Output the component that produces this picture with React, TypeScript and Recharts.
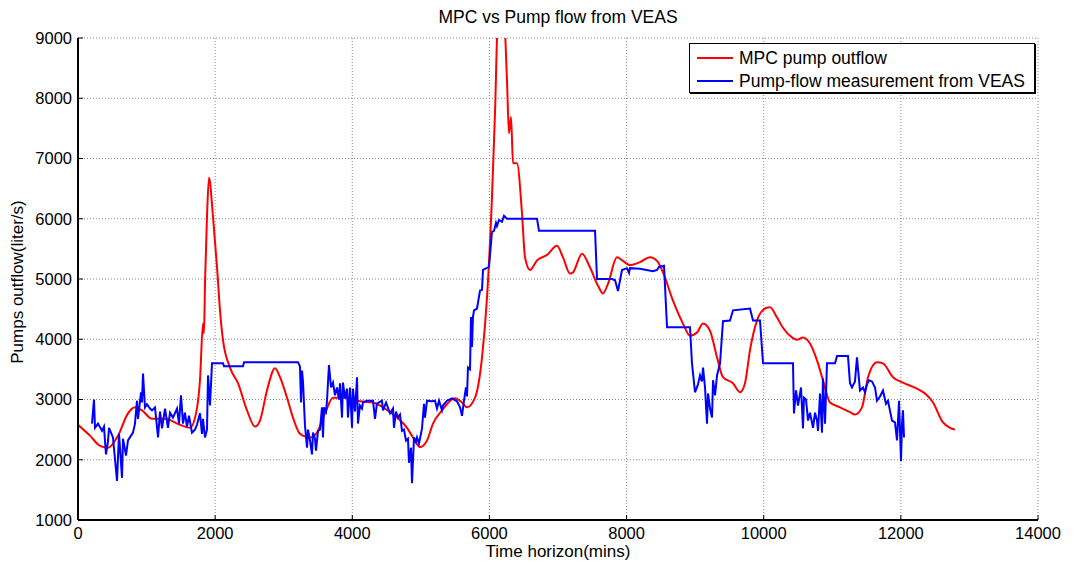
import React from "react";
import { CartesianGrid, Line, LineChart, XAxis, YAxis } from "recharts";

const xTicks = [0, 2000, 4000, 6000, 8000, 10000, 12000, 14000];
const yTicks = [1000, 2000, 3000, 4000, 5000, 6000, 7000, 8000, 9000];

// MPC pump outflow (red)
const mpcTime = [
  0, 175, 321, 437, 583, 729, 831, 933, 1079, 1269, 1487, 1633, 1721, 1779, 1823, 1837, 1852, 1881, 1910, 1969,
  2027, 2071, 2115, 2217, 2333, 2465, 2581, 2654, 2756, 2873, 2946, 3048, 3135, 3223, 3281, 3383, 3485, 3602, 3719,
  3923, 4112, 4302, 4448, 4652, 4798, 4885, 4987, 5090, 5177, 5308, 5498, 5600, 5673, 5790, 5892, 5965, 6037, 6081,
  6125, 6212, 6256, 6285, 6315, 6344, 6402, 6475, 6519, 6592, 6694, 6840, 6985, 7073, 7175, 7219, 7350, 7467, 7583,
  7656, 7729, 7860, 7948, 8050, 8196, 8342, 8444, 8531, 8677, 8823, 8925, 9027, 9115, 9217, 9319, 9406, 9552, 9654,
  9727, 9800, 9902, 10019, 10092, 10194, 10281, 10412, 10485, 10573, 10675, 10777, 10864, 10967, 11113, 11258, 11331,
  11433, 11521, 11652, 11739, 11885, 12031, 12235, 12381, 12469, 12614, 12717, 12790,
];
const mpcFlow = [
  2580, 2400, 2230, 2200, 2400, 2770, 2870, 2820, 2680, 2680, 2580, 2530, 2770, 3320, 4260, 4100, 4930, 6030, 6680, 6030,
  5200, 4480, 3980, 3530, 3270, 2820, 2550, 2650, 3150, 3520, 3370, 3030, 2700, 2450, 2400, 2370, 2450, 2770, 3030,
  3030, 2970, 2950, 2870, 2700, 2530, 2370, 2210, 2320, 2600, 2820, 3020, 2950, 2870, 3030, 3700, 4700, 6350, 7750,
  9300, 9300, 8300, 7420, 7690, 6920, 6920, 6090, 5360, 5150, 5310, 5400, 5550, 5360, 5090, 5110, 5420, 5190, 4890,
  4760, 4920, 5360, 5300, 5230, 5280, 5360, 5300, 5110, 4640, 4260, 4060, 4110, 4260, 4140, 3700, 3370, 3270, 3120,
  3270, 3820, 4310, 4510, 4530, 4360, 4190, 4030, 3990, 4030, 3930, 3650, 3320, 2950, 2870, 2790, 2750,
  2870, 3370, 3620, 3600, 3370, 3280, 3180, 3070, 2950, 2620, 2530, 2500,
];

// Pump-flow measurement from VEAS (blue)
const veasTime = [
  204, 233, 248, 292, 350, 379, 408, 437, 452, 481, 510, 569, 598, 642, 656, 700, 729, 773, 802, 831, 860, 875, 919,
  933, 948, 977, 1006, 1050, 1079, 1123, 1167, 1196, 1225, 1269, 1312, 1342, 1385, 1444, 1473, 1502, 1531, 1560, 1589,
  1619, 1662, 1706, 1735, 1779, 1808, 1823, 1852, 1881, 1896, 1925, 1954, 2115, 2129, 2406, 2421, 3208, 3237, 3252,
  3267, 3281, 3310, 3340, 3354, 3383, 3412, 3427, 3456, 3471, 3500, 3529, 3558, 3573, 3587, 3617, 3631, 3660, 3690,
  3719, 3748, 3777, 3806, 3821, 3850, 3864, 3894, 3923, 3937, 3967, 3996, 4010, 4040, 4069, 4083, 4112, 4141, 4156,
  4214, 4302, 4331, 4360, 4433, 4448, 4492, 4550, 4594, 4608, 4637, 4667, 4696, 4725, 4754, 4783, 4812, 4827, 4856,
  4871, 4900, 4929, 4944, 4973, 5017, 5046, 5060, 5090, 5162, 5206, 5235, 5265, 5308, 5323, 5381, 5454, 5527, 5571,
  5600, 5629, 5658, 5673, 5687, 5717, 5731, 5746, 5760, 5775, 5819, 5863, 5892, 5906, 5994, 6037, 6067, 6096, 6110,
  6140, 6183, 6212, 6256, 6694, 6723, 7540, 7569, 7788, 7832, 7875, 7933, 8006, 8036, 8050, 8196, 8385, 8444, 8473,
  8546, 8590, 8925, 8954, 8998, 9042, 9071, 9100, 9115, 9144, 9173, 9188, 9217, 9246, 9261, 9290, 9319, 9363, 9406,
  9508, 9552, 9800, 9844, 9946, 9990, 10427, 10441, 10471, 10500, 10544, 10573, 10587, 10617, 10646, 10675, 10719,
  10748, 10777, 10792, 10821, 10850, 10864, 10894, 10923, 11040, 11069, 11229, 11258, 11287, 11331, 11360, 11404,
  11448, 11477, 11506, 11535, 11579, 11623, 11652, 11696, 11739, 11783, 11812, 11871, 11914, 11944, 11973, 12002,
  12017, 12031, 12046,
];
const veasFlow = [
  2600, 3000, 2530, 2600, 2480, 2550, 2090, 2300, 2530, 2450, 2370, 1650, 2430, 1700, 2350, 2070, 2320, 2400, 2450,
  2600, 2980, 2680, 3120, 2950, 3430, 2870, 2920, 2850, 2820, 2870, 2370, 2800, 2520, 2850, 2530, 2780, 2700, 2850,
  2600, 3070, 2600, 2780, 2550, 2730, 2450, 2500, 2580, 2770, 2430, 2680, 2370, 2500, 3400, 2900, 3600, 3600, 3550,
  3550, 3620, 3620, 3550, 2950, 3480, 3300, 2570, 2200, 2500, 2320, 2090, 2450, 2350, 2150, 2480, 2500, 2870, 2370,
  2870, 2800, 2980, 3570, 3200, 3280, 3070, 3200, 3000, 3270, 2700, 3280, 3020, 3180, 2700, 3200, 2530, 3180, 2800,
  3370, 2600, 2900, 2850, 2950, 2980, 2980, 2680, 2930, 2980, 2820, 2950, 2770, 2850, 2530, 2800, 2700, 2750, 2480,
  2500, 2320, 2350, 1950, 2200, 1610, 2370, 2300, 2370, 2270, 2520, 2930, 2700, 2980, 2970, 2980, 2850, 2980, 2820,
  2900, 2980, 3020, 2970, 2870, 2730, 2980, 3200, 3050, 3530, 3500, 4370, 3870, 4370, 4480, 4510, 4810, 4820, 5150,
  5200, 5780, 5800, 5930, 5880, 5980, 5950, 6050, 6000, 6000, 5800, 5800, 5000, 5000, 4980, 4800, 5150, 5180, 5100,
  5180, 5170, 5130, 5150, 5200, 5220, 4200, 4200, 3600, 3120, 3250, 3400, 3300, 3530, 3200, 2600, 3100, 2850, 2700,
  3320, 3070, 3400, 3600, 4300, 4310, 4480, 4510, 4310, 4310, 3600, 3600, 2770, 3150, 2900, 3200, 2520, 3030, 3000,
  2650, 2780, 2530, 2780, 2650, 2480, 3100, 2450, 3350, 2600, 3600, 3600, 3720, 3720, 3270, 3200, 3300, 3700, 3150,
  3200, 3120, 3250, 3320, 3300, 3200, 2980, 3050, 3150, 2930, 2980, 2650, 2620, 2320, 2980, 1980, 2600, 2820, 2370,
];

const mpcData = mpcTime.map((t, i) => ({ t, v: mpcFlow[i] }));
const veasData = veasTime.map((t, i) => ({ t, v: veasFlow[i] }));

const font = "'Liberation Sans', Arial, sans-serif";
const tickStyle = { fontSize: 16.5, fill: "#000", fontFamily: font };
const frame = { stroke: "#000", strokeWidth: 2 };

export default function App() {
  return (
    <div style={{ position: "absolute", left: 0, top: 0, width: 1076, height: 565, background: "#fff", fontFamily: font }}>
      <LineChart width={1076} height={565} margin={{ top: 38, right: 38, bottom: 20, left: 18 }}>
        <CartesianGrid stroke="#8a8a8a" strokeDasharray="1 2" horizontalValues={yTicks} verticalValues={xTicks} />
        <XAxis
          dataKey="t"
          type="number"
          domain={[0, 14000]}
          ticks={xTicks}
          height={25}
          tickSize={-5}
          tickMargin={12}
          tick={tickStyle}
          axisLine={frame}
          tickLine={{ stroke: "#000" }}
          allowDataOverflow
        />
        <XAxis
          xAxisId="top"
          orientation="top"
          type="number"
          domain={[0, 14000]}
          ticks={xTicks}
          height={0}
          tickSize={-5}
          tick={false}
          axisLine={frame}
          tickLine={{ stroke: "#000" }}
        />
        <YAxis
          type="number"
          domain={[1000, 9000]}
          ticks={yTicks}
          width={60}
          tickSize={-5}
          tickMargin={11}
          tick={tickStyle}
          axisLine={frame}
          tickLine={{ stroke: "#000" }}
          allowDataOverflow
        />
        <YAxis
          yAxisId="right"
          orientation="right"
          type="number"
          domain={[1000, 9000]}
          ticks={yTicks}
          width={0}
          tickSize={-5}
          tick={false}
          axisLine={frame}
          tickLine={{ stroke: "#000" }}
        />
        <Line data={mpcData} dataKey="v" type="monotone" stroke="#ff0000" strokeWidth={2} dot={false} isAnimationActive={false} />
        <Line data={veasData} dataKey="v" stroke="#0000ff" strokeWidth={2} dot={false} isAnimationActive={false} />
      </LineChart>

      <div style={{ position: "absolute", left: 0, top: 7, width: 1116, textAlign: "center", fontSize: 17.5 }}>
        MPC vs Pump flow from VEAS
      </div>
      <div style={{ position: "absolute", left: 0, top: 542, width: 1116, textAlign: "center", fontSize: 17 }}>
        Time horizon(mins)
      </div>
      <div
        style={{
          position: "absolute",
          left: 18,
          top: 282,
          transform: "translate(-50%, -50%) rotate(-90deg)",
          whiteSpace: "nowrap",
          fontSize: 17,
        }}
      >
        Pumps outflow(liter/s)
      </div>

      <div
        style={{
          position: "absolute",
          left: 689,
          top: 43,
          width: 344,
          height: 48,
          border: "1px solid #000",
          background: "#fff",
          boxShadow: "1px 1px 0 #000",
          fontSize: 17.5,
        }}
      >
        {[
          { name: "MPC pump outflow", color: "#ff0000" },
          { name: "Pump-flow measurement from VEAS", color: "#0000ff" },
        ].map((s, i) => (
          <div key={s.name} style={{ position: "absolute", left: 7, top: 5 + i * 23, height: 18, display: "flex", alignItems: "center" }}>
            <div style={{ width: 36, height: 2, background: s.color, marginRight: 6 }} />
            <span>{s.name}</span>
          </div>
        ))}
      </div>
    </div>
  );
}
